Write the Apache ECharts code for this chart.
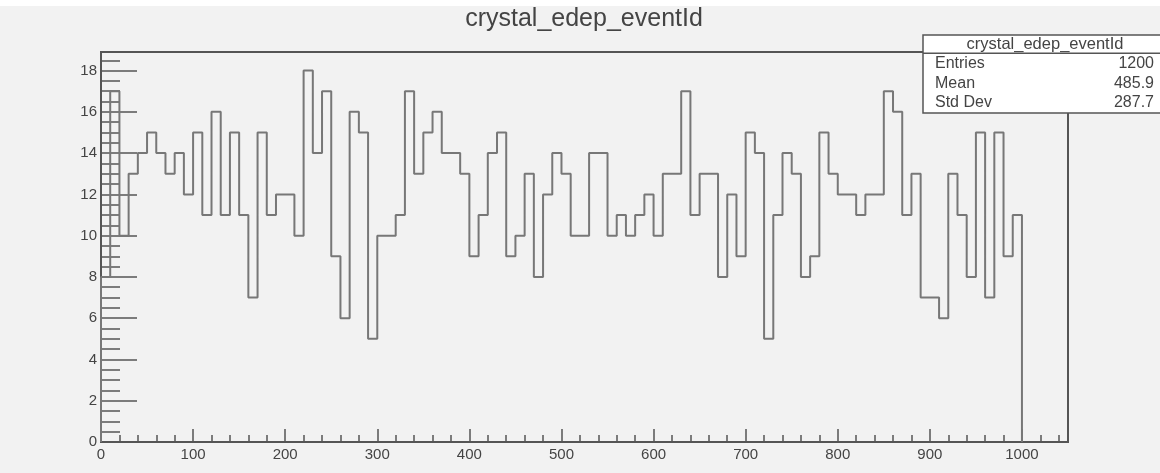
<!DOCTYPE html>
<html>
<head>
<meta charset="utf-8">
<script src="https://cdn.jsdelivr.net/npm/echarts@6/dist/echarts.min.js"></script>
<style>
    html, body { margin: 0; padding: 0; background: #f2f2f2; }
    #chart { width: 1160px; height: 473px; }
</style>
</head>
<body>
<div id="chart"></div>
<script>
// histogram data (bins of width 10 from 0 to 1000)
const histName = 'crystal_edep_eventId';
const binWidth = 10;
const counts = [
    8, 17, 10, 13, 14, 15, 14, 13, 14, 12,
    15, 11, 16, 11, 15, 11, 7, 15, 11, 12,
    12, 10, 18, 14, 17, 9, 6, 16, 15, 5,
    10, 10, 11, 17, 13, 15, 16, 14, 14, 13,
    9, 11, 14, 15, 9, 10, 13, 8, 12, 14,
    13, 10, 10, 14, 14, 10, 11, 10, 11, 12,
    10, 13, 13, 17, 11, 13, 13, 8, 12, 9,
    15, 14, 5, 11, 14, 13, 8, 9, 15, 13,
    12, 12, 11, 12, 12, 17, 16, 11, 13, 7,
    7, 6, 13, 11, 8, 15, 7, 15, 9, 11
];
const statNames = ['Entries', 'Mean', 'Std Dev'];
const statValues = ['1200', '485.9', '287.7'];

const font = '"Liberation Sans", Arial, sans-serif';
const dark = '#555';

// outline of the histogram, one horizontal step per bin
function stepPoints(values) {
    let pts = [[0, 0]];
    values.forEach(function (v, i) {
        pts.push([i * binWidth, v], [(i + 1) * binWidth, v]);
    });
    pts.push([values.length * binWidth, 0]);
    return pts;
}

function txt(x, y, text, size, align) {
    return {
        type: 'text', x: x, y: y, z: 110,
        style: {
            text: text, fill: '#444', font: size + 'px ' + font,
            align: align, verticalAlign: 'middle',
            textAlign: align, textVerticalAlign: 'middle'
        }
    };
}

let statsBox = [
    { type: 'rect', z: 100, shape: { x: 923, y: 35, width: 242, height: 78 },
      style: { fill: '#ffffff', stroke: dark, lineWidth: 1.5 } },
    { type: 'line', z: 105, shape: { x1: 923, y1: 53.3, x2: 1165, y2: 53.3 },
      style: { stroke: dark, lineWidth: 1.5 } },
    txt(1045, 44, histName, 16.5, 'center')
];
statNames.forEach(function (name, i) {
    statsBox.push(txt(935, 64 + i * 19.2, name, 16, 'left'));
    statsBox.push(txt(1154, 64 + i * 19.2, statValues[i], 16, 'right'));
});

const chart = echarts.init(document.getElementById('chart'), null, { renderer: 'canvas' });

let tickStyle = { color: dark, width: 1.5 };
let plain = function (v) { return String(v); };

let option = {
    animation: false,
    backgroundColor: '#f2f2f2',
    grid: {
        left: 101, right: 92, top: 52, bottom: 31,
        show: true, borderColor: dark, borderWidth: 2
    },
    xAxis: [{
        type: 'value', min: 0, max: 1050, interval: 100, position: 'bottom',
        axisLine: { show: true, lineStyle: { color: dark, width: 2 } },
        axisTick: { show: true, inside: true, length: 13, lineStyle: tickStyle },
        axisLabel: { showMaxLabel: false, color: '#444', fontSize: 15, fontFamily: font, margin: 5, formatter: plain },
        splitLine: { show: false }
    }, {
        type: 'value', min: 0, max: 1050, interval: 20, position: 'bottom',
        axisLine: { show: false },
        axisTick: { show: true, inside: true, length: 7, lineStyle: tickStyle },
        axisLabel: { show: false },
        splitLine: { show: false }
    }],
    yAxis: [{
        type: 'value', min: 0, max: 18.9, interval: 2, position: 'left',
        axisLine: { show: true, lineStyle: { color: dark, width: 2 } },
        axisTick: { show: true, inside: true, length: 36, lineStyle: tickStyle },
        axisLabel: { showMaxLabel: false, color: '#444', fontSize: 15, fontFamily: font, margin: 4, formatter: plain },
        splitLine: { show: false }
    }, {
        type: 'value', min: 0, max: 18.9, interval: 0.5, position: 'left',
        axisLine: { show: false },
        axisTick: { show: true, inside: true, length: 19, lineStyle: tickStyle },
        axisLabel: { show: false },
        splitLine: { show: false }
    }],
    series: [{
        type: 'line',
        xAxisIndex: 0,
        yAxisIndex: 0,
        data: stepPoints(counts),
        showSymbol: false,
        silent: true,
        lineStyle: { color: '#777', width: 2 }
    }],
    graphic: [
        { type: 'rect', z: 100, shape: { x: 0, y: 0, width: 1160, height: 6 }, style: { fill: '#ffffff' } },
        txt(584, 19, histName, 25, 'center')
    ].concat(statsBox)
};

chart.setOption(option);
</script>
</body>
</html>
